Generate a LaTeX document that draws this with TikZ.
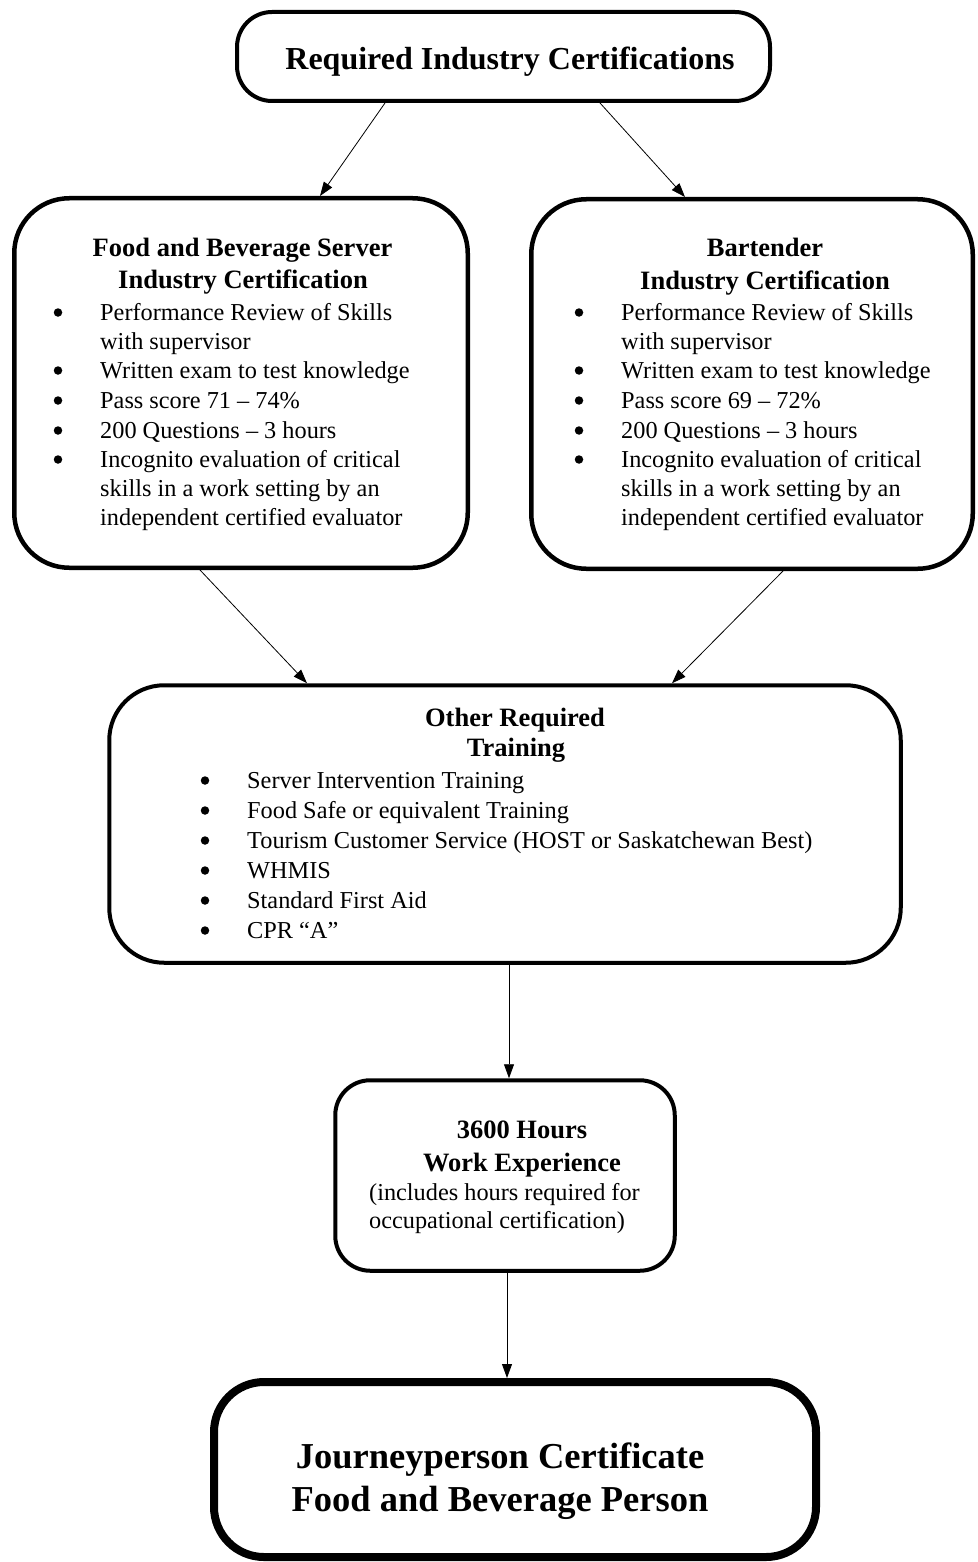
\documentclass[tikz,border=0pt]{standalone}
\usepackage{fontspec}
\setmainfont{Liberation Serif}
\usetikzlibrary{arrows.meta}
\newcommand\bodyfont{\fontsize{24.3}{29.5}\selectfont}
\newcommand\headfont{\fontsize{26.5}{31}\selectfont\bfseries}
\newcommand\topfont{\fontsize{32}{38}\selectfont\bfseries}
\newcommand\bigfont{\fontsize{36.5}{42}\selectfont\bfseries}
\tikzset{
  box/.style={draw, line width=4pt, rounded corners=#1, inner sep=0pt},
  conn/.style={line width=0.8pt, -{Triangle[length=14pt,width=10pt]}},
  itm/.style={inner sep=0pt, anchor=base west, font=\bodyfont},
  bul/.style={circle, fill, inner sep=0pt, minimum size=8.5pt, yshift=7.5pt},
  hd/.style={inner sep=0pt, anchor=base, font=\headfont},
}
\begin{document}
\begin{tikzpicture}[x=1pt,y=-1pt]
\useasboundingbox (0,0) rectangle (977,1562);
% boxes
\node[box=35pt, minimum width=533pt, minimum height=89pt] (top) at (503.5,56.5) {};
\node[box=55pt, line width=4.5pt, minimum width=453.5pt, minimum height=369.5pt] (fb) at (241,383) {};
\node[box=55pt, line width=4.5pt, minimum width=441.5pt, minimum height=369.5pt] (bt) at (752,384) {};
\node[box=55pt, minimum width=791.5pt, minimum height=277.5pt] (mid) at (505,824) {};
\node[box=35pt, minimum width=339.5pt, minimum height=190.5pt] (exp) at (505,1175.5) {};
\node[box=50pt, line width=8pt, minimum width=602pt, minimum height=175pt] (jp) at (515,1469.5) {};
% connectors
\draw[conn] ([xshift=-118.5pt]top.south) -- ([xshift=79pt]fb.north);
\draw[conn] ([xshift=96.5pt]top.south) -- ([xshift=-67pt]bt.north);
\draw[conn] ([xshift=-41pt]fb.south) -- ([xshift=-198pt]mid.north);
\draw[conn] ([xshift=31pt]bt.south) -- ([xshift=167pt]mid.north);
\draw[conn] ([xshift=4pt]mid.south) -- ([xshift=4pt]exp.north);
\draw[conn] ([xshift=2pt]exp.south) -- ([xshift=-8pt]jp.north);
% top text
\node[inner sep=0pt, anchor=base, font=\topfont] (ttop) at (510,70) {Required Industry Certifications};
% left box text
\node[hd] (fbh1) at (242.5,257) {Food and Beverage Server};
\node[hd] (fbh2) at (243,288) {Industry Certification};
\node[bul] (fbb1) at (58,320) {};
\node[bul] (fbb2) at (58,378) {};
\node[bul] (fbb3) at (58,408) {};
\node[bul] (fbb4) at (58,438) {};
\node[bul] (fbb5) at (58,467) {};
\node[itm] (fbi1) at (100,320) {Performance Review of Skills};
\node[itm] (fbi2) at (100,349) {with supervisor};
\node[itm] (fbi3) at (100,378) {Written exam to test knowledge};
\node[itm] (fbi4) at (100,408) {Pass score 71 – 74\%};
\node[itm] (fbi5) at (100,438) {200 Questions – 3 hours};
\node[itm] (fbi6) at (100,467) {Incognito evaluation of critical};
\node[itm] (fbi7) at (100,496) {skills in a work setting by an};
\node[itm] (fbi8) at (100,525) {independent certified evaluator};
% right box text
\node[hd] (bth1) at (765,257) {Bartender};
\node[hd] (bth2) at (765,289) {Industry Certification};
\node[bul] (btb1) at (579,320) {};
\node[bul] (btb2) at (579,378) {};
\node[bul] (btb3) at (579,408) {};
\node[bul] (btb4) at (579,438) {};
\node[bul] (btb5) at (579,467) {};
\node[itm] (bti1) at (621,320) {Performance Review of Skills};
\node[itm] (bti2) at (621,349) {with supervisor};
\node[itm] (bti3) at (621,378) {Written exam to test knowledge};
\node[itm] (bti4) at (621,408) {Pass score 69 – 72\%};
\node[itm] (bti5) at (621,438) {200 Questions – 3 hours};
\node[itm] (bti6) at (621,467) {Incognito evaluation of critical};
\node[itm] (bti7) at (621,496) {skills in a work setting by an};
\node[itm] (bti8) at (621,525) {independent certified evaluator};
% middle box text
\node[hd] (mh1) at (515,726) {Other Required};
\node[hd] (mh2) at (516,756) {Training};
\node[bul] (mb1) at (205,788) {};
\node[bul] (mb2) at (205,818) {};
\node[bul] (mb3) at (205,848) {};
\node[bul] (mb4) at (205,878) {};
\node[bul] (mb5) at (205,908) {};
\node[bul] (mb6) at (205,938) {};
\node[itm] (mi1) at (247,788) {Server Intervention Training};
\node[itm] (mi2) at (247,818) {Food Safe or equivalent Training};
\node[itm] (mi3) at (247,848) {Tourism Customer Service (HOST or Saskatchewan Best)};
\node[itm] (mi4) at (247,878) {WHMIS};
\node[itm] (mi5) at (247,908) {Standard First Aid};
\node[itm] (mi6) at (247,938) {CPR “A”};
% experience box text
\node[hd] (eh1) at (522,1138) {3600 Hours};
\node[hd] (eh2) at (522,1171) {Work Experience};
\node[itm] (ei1) at (369,1200) {(includes hours required for};
\node[itm] (ei2) at (369,1228) {occupational certification)};
% final box text
\node[inner sep=0pt, anchor=base, font=\bigfont] (jt1) at (500,1468) {Journeyperson Certificate};
\node[inner sep=0pt, anchor=base, font=\bigfont] (jt2) at (500,1511) {Food and Beverage Person};
\end{tikzpicture}
\end{document}
